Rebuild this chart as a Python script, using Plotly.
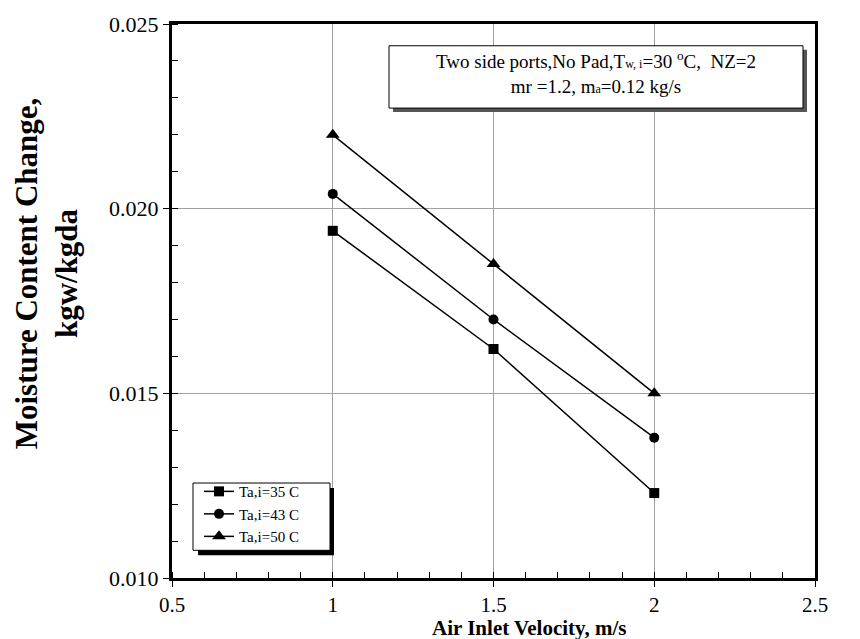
import plotly.graph_objects as go

velocity = [1.0, 1.5, 2.0]
mc_35 = [0.0194, 0.0162, 0.0123]
mc_43 = [0.0204, 0.0170, 0.0138]
mc_50 = [0.0220, 0.0185, 0.0150]
series_names = ["Ta,i=35 C", "Ta,i=43 C", "Ta,i=50 C"]
series_symbols = ["square", "circle", "triangle-up"]
series_sizes = [10, 10, 12]

FONT = "Liberation Serif, Times New Roman, serif"

# plot area in pixels (for converting box positions)
L, R, T, B = 172, 45, 18, 61
W, H = 860, 639
PW, PH = W - L - R, H - T - B


def px(x):
    return (x - L) / PW


def py(y):
    return (H - B - y) / PH


fig = go.Figure()
for name, vals, sym, sz in zip(series_names, [mc_35, mc_43, mc_50], series_symbols, series_sizes):
    fig.add_trace(go.Scatter(
        x=velocity, y=vals, name=name, mode="lines+markers",
        line=dict(color="black", width=1.5),
        marker=dict(symbol=sym, size=sz, color="black"),
    ))

axis_common = dict(
    showline=True, linecolor="black", linewidth=3, mirror=True,
    showgrid=True, gridcolor="#a0a0a0", gridwidth=1,
    ticks="outside", ticklen=6, tickcolor="black", tickwidth=1,
    zeroline=False,
)

fig.update_xaxes(
    range=[0.5, 2.5], dtick=0.5, tick0=0.5,
    tickfont=dict(family=FONT, size=21, color="black"),
    minor=dict(dtick=0.1, ticks="inside", ticklen=6, tickcolor="black", showgrid=False),
    **axis_common,
)
fig.update_yaxes(
    range=[0.010, 0.025], dtick=0.005, tick0=0.010, tickformat=".3f",
    tickfont=dict(family=FONT, size=22, color="black"),
    minor=dict(dtick=0.001, ticks="inside", ticklen=6, tickcolor="black", showgrid=False),
    **axis_common,
)

# axis titles
fig.add_annotation(xref="paper", yref="paper", x=px(529), y=py(629), xanchor="center", yanchor="middle",
                   text="<b>Air Inlet Velocity, m/s</b>", showarrow=False,
                   font=dict(family=FONT, size=21, color="black"))
fig.add_annotation(xref="paper", yref="paper", x=px(46), y=py(270), xanchor="center", yanchor="middle",
                   text="<b>Moisture Content Change,<br>kgw/kgda</b>", showarrow=False, textangle=-90,
                   font=dict(family=FONT, size=31, color="black"))

# info box: shadow + box + text
fig.add_shape(type="rect", xref="paper", yref="paper", x0=px(393), x1=px(807), y0=py(107), y1=py(44),
              fillcolor="#555555", line=dict(width=0), layer="above")
fig.add_shape(type="rect", xref="paper", yref="paper", x0=px(389), x1=px(803), y0=py(103), y1=py(40),
              fillcolor="white", line=dict(color="black", width=1), layer="above")
fig.add_annotation(
    xref="paper", yref="paper", x=px(596), y=py(67), xanchor="center", yanchor="middle",
    text="Two side ports,No Pad,T<span style='font-size:12px'>w, i</span>=30 <sup>o</sup>C,  NZ=2<br>mr =1.2, m<span style='font-size:12px'>a</span>=0.12 kg/s",
    showarrow=False, align="center",
    font=dict(family=FONT, size=19, color="black"),
)

# legend box: shadow + box
fig.add_shape(type="rect", xref="paper", yref="paper", x0=px(198), x1=px(334), y0=py(555), y1=py(487),
              fillcolor="black", line=dict(width=0), layer="above")
fig.add_shape(type="rect", xref="paper", yref="paper", x0=px(193), x1=px(330), y0=py(550), y1=py(482),
              fillcolor="white", line=dict(color="black", width=1), layer="above")

fig.update_layout(
    width=W, height=H,
    margin=dict(l=L, r=R, t=T, b=B),
    paper_bgcolor="white", plot_bgcolor="white",
    showlegend=True,
    legend=dict(
        x=px(199), y=py(474), xanchor="left", yanchor="top",
        bgcolor="rgba(0,0,0,0)", borderwidth=0,
        font=dict(family=FONT, size=15, color="black"),
        tracegroupgap=0,
    ),
)

fig.write_html("out.html")
